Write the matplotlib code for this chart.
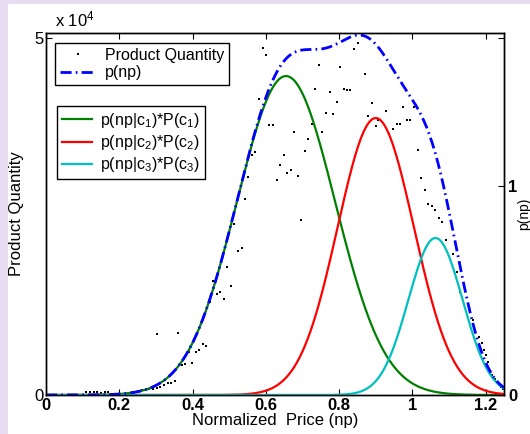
import matplotlib
matplotlib.use('Agg')
import matplotlib.pyplot as plt
import numpy as np
from matplotlib.patches import Rectangle

plt.rcParams['font.family'] = ['Liberation Sans', 'DejaVu Sans']
plt.rcParams['mathtext.fontset'] = 'custom'
plt.rcParams['mathtext.rm'] = 'Liberation Sans'
plt.rcParams['mathtext.it'] = 'Liberation Sans'

# observed product quantity per normalized price
price = [0.11, 0.12, 0.13, 0.14, 0.15, 0.16, 0.17,
         0.237, 0.245, 0.254, 0.262, 0.270, 0.281, 0.292, 0.303, 0.311, 0.322,
         0.333, 0.341, 0.352, 0.303, 0.360, 0.371, 0.379, 0.390, 0.398, 0.409,
         0.417, 0.428, 0.436, 0.447, 0.455, 0.466, 0.475, 0.485, 0.494, 0.505,
         0.513, 0.524, 0.535, 0.543, 0.551, 0.562, 0.570, 0.581, 0.592, 0.600,
         0.608, 0.619, 0.630, 0.638, 0.649, 0.657, 0.668, 0.676, 0.687, 0.695,
         0.706, 0.715, 0.725, 0.734, 0.745, 0.753, 0.764, 0.775, 0.783, 0.794,
         0.802, 0.813, 0.821, 0.829, 0.840, 0.851, 0.870, 0.878, 0.889, 0.900,
         0.905, 0.927, 0.935, 0.946, 0.957, 0.965, 0.974, 0.985, 0.993, 1.004,
         1.015, 1.023, 1.034, 1.042, 1.053, 1.061, 1.072, 1.080, 1.091, 1.110,
         1.121, 1.129, 1.165, 1.170, 1.181, 1.189, 1.195, 1.200, 1.205, 1.216,
         1.225, 1.241, 1.246]
quantity = [420, 420, 420, 420, 280, 420, 420,
            420, 420, 560, 700, 700, 840, 840, 980, 1120, 1400,
            1680, 1680, 1960, 8540, 8680, 4200, 4340, 6020, 4480, 6020,
            6300, 7140, 6860, 13020, 15960, 14140, 14420, 13440, 17920, 15260,
            23940, 20160, 20580, 27440, 30520, 33600, 34020, 41440, 48580, 47600,
            37800, 37800, 30100, 32200, 33600, 31080, 31500, 36820, 30660, 24500,
            34160, 35840, 37940, 42840, 46200, 36820, 39480, 42420, 39340, 41020,
            45920, 42840, 42700, 42700, 48440, 49280, 44940, 39060, 40880, 37660,
            38500, 39760, 36540, 37240, 37940, 37940, 40320, 38500, 38500, 40320,
            34300, 30380, 28700, 26740, 26460, 25900, 24780, 24220, 21700, 19740,
            17220, 14420, 10500, 9100, 8120, 7280, 6300, 5600, 4620, 2800,
            2240, 1120, 840]

# fitted mixture components
comp_mean = [0.655, 0.900, 1.063]
comp_sd = [0.134, 0.104, 0.074]
comp_peak = [1.526, 1.325, 0.751]
comp_labels = [r'p(np|c$_1$)*P(c$_1$)', r'p(np|c$_2$)*P(c$_2$)',
               r'p(np|c$_3$)*P(c$_3$)']
comp_colors = ['#008000', '#FF0000', '#00BFBF']

xs = np.linspace(0, 1.25, 500)
comps = [p * np.exp(-(xs - m) ** 2 / (2 * s ** 2))
         for m, s, p in zip(comp_mean, comp_sd, comp_peak)]
total = np.sum(comps, axis=0)

fig = plt.figure(figsize=(5.30, 4.34), dpi=100, facecolor='#E6DCF2')
fig.patches.append(Rectangle((8 / 530, 0), 1, 430 / 434, transform=fig.transFigure,
                             facecolor='white', edgecolor='none', zorder=-1))
ax = fig.add_axes([46 / 530, 39 / 434, 458 / 530, 362 / 434])
ax2 = ax.twinx()

ax.plot(price, quantity, linestyle='none', marker='s', markersize=1.5,
        color='black', markeredgewidth=0)
ax.set_xlim(0, 1.25)
ax.set_ylim(0, 50700)
ax.set_yticks([0, 50000])
ax.set_yticklabels(['0', '5'], fontsize=12)
ax.set_xticks([0, 0.2, 0.4, 0.6, 0.8, 1.0, 1.2])
ax.set_xticklabels(['0', '0.2', '0.4', '0.6', '0.8', '1', '1.2'],
                   fontsize=12, fontweight='bold')
ax.tick_params(direction='in', top=True, right=True, length=4, pad=2)
ax.set_xlabel('Normalized  Price (np)', fontsize=12, labelpad=0)
ax.set_ylabel('Product Quantity', fontsize=12, labelpad=7)
ax.text(0.02, 1.01, r'x 10$^4$', transform=ax.transAxes, fontsize=12,
        va='bottom', ha='left')

lines = []
for c, col in zip(comps, comp_colors):
    ln, = ax2.plot(xs, c, color=col, linewidth=1.6)
    lines.append(ln)
blue, = ax2.plot(xs, total, color='#0000FF', linewidth=2,
                 linestyle=(0, (4, 1.5, 0.6, 1.5)))
ax2.set_ylim(0, 1.732)
ax2.set_yticks([0, 1])
ax2.set_yticklabels(['0', '1'], fontsize=12, fontweight='bold')
ax2.tick_params(direction='in', length=4, pad=3)
ax2.set_ylabel('p(np)', fontsize=10)
ax2.yaxis.set_label_coords(1.028, 0.5)

for a in (ax, ax2):
    for sp in a.spines.values():
        sp.set_linewidth(1.0)

dot_handle, = ax.plot([], [], linestyle='none', marker='s', markersize=1.6,
                      color='black', markeredgewidth=0)
leg1 = ax2.legend([dot_handle, blue], ['Product Quantity', 'p(np)'],
                  loc='upper left', bbox_to_anchor=(0.02, 0.972),
                  borderaxespad=0, fontsize=11.5, fancybox=False,
                  edgecolor='black', framealpha=1, handlelength=2.2,
                  handletextpad=0.6, borderpad=0.3, labelspacing=0.15)
leg1.get_frame().set_linewidth(1.0)
ax2.add_artist(leg1)
leg2 = ax2.legend(lines, comp_labels, loc='upper left',
                  bbox_to_anchor=(0.024, 0.798), borderaxespad=0,
                  fontsize=11.5, fancybox=False, edgecolor='black',
                  framealpha=1, handlelength=1.9, handletextpad=0.5,
                  borderpad=0.3, labelspacing=0.2)
leg2.get_frame().set_linewidth(1.0)

fig.savefig('out.png', dpi=100, facecolor=fig.get_facecolor())
